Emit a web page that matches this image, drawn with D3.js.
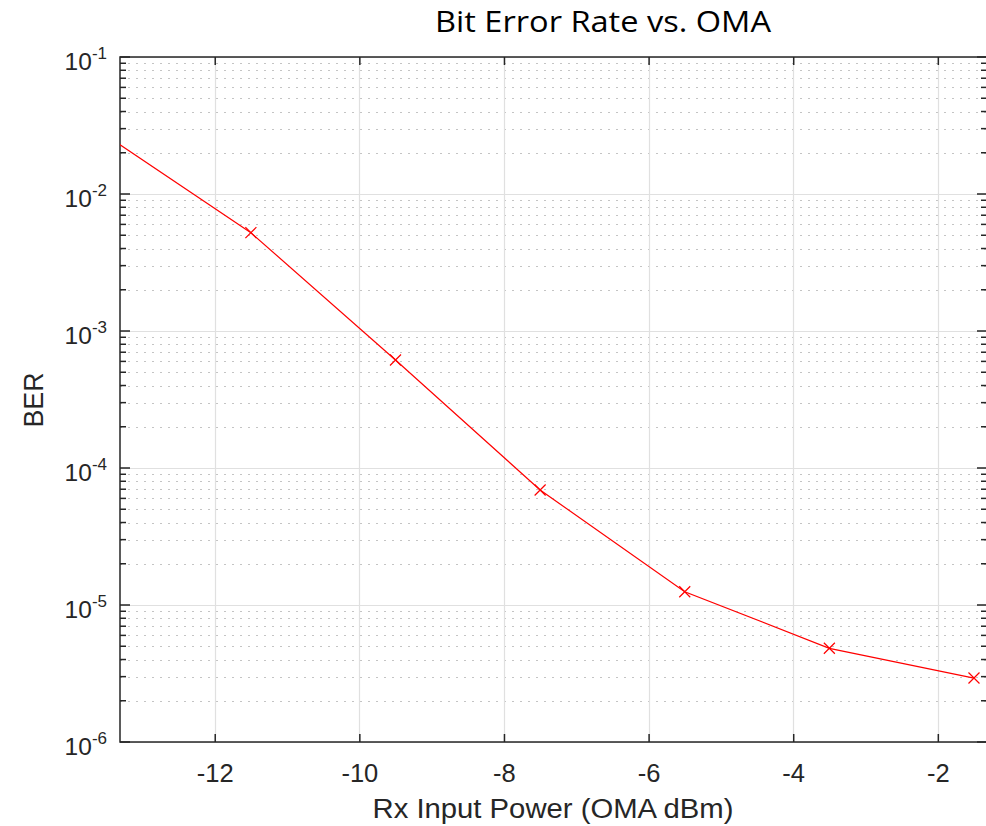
<!DOCTYPE html>
<html>
<head>
<meta charset="utf-8">
<script src="https://cdn.jsdelivr.net/npm/d3@7"></script>
<style>
  body { margin: 0; background: #fff; }
  text { font-family: "Liberation Sans", Arial, sans-serif; fill: #262626; }
</style>
</head>
<body>
<div id="chart"></div>
<script>
// data
var powerOMA = [-13.5, -11.5, -9.5, -7.5, -5.5, -3.5, -1.5];
var berValues = [2.67e-2, 5.22e-3, 6.14e-4, 6.91e-5, 1.25e-5, 4.83e-6, 2.93e-6];
var xTicks = [-12, -10, -8, -6, -4, -2];
var yExponents = [-1, -2, -3, -4, -5, -6];

// size and margins
var margin = {top: 57, right: -1, bottom: 84, left: 120},
  width = 986 - margin.left - margin.right,
  height = 826 - margin.top - margin.bottom;

var svg = d3.select("#chart")
  .append("svg")
    .attr("width", 986)
    .attr("height", 826);

var g = svg.append("g")
  .attr("transform", "translate(" + margin.left + "," + margin.top + ")");

// scales
var x = d3.scaleLinear()
  .domain([-13.31, -1.32])
  .range([0, width]);

var y = d3.scaleLog()
  .domain([1e-6, 1e-1])
  .range([height, 0]);

// minor y grid (dotted) + minor ticks
var minorVals = [];
for (var e = -6; e < -1; e++) {
  for (var m = 2; m <= 9; m++) minorVals.push(m * Math.pow(10, e));
}

g.append("g")
  .selectAll("line")
  .data(minorVals)
  .enter()
  .append("line")
    .attr("x1", 0)
    .attr("x2", width)
    .attr("y1", function(d) { return Math.round(y(d)) + 0.5; })
    .attr("y2", function(d) { return Math.round(y(d)) + 0.5; })
    .style("stroke", "#c4c4c4")
    .style("stroke-width", 1)
    .style("stroke-dasharray", "2,6");

// major grid
g.append("g")
  .selectAll("line")
  .data(yExponents)
  .enter()
  .append("line")
    .attr("x1", 0)
    .attr("x2", width)
    .attr("y1", function(d) { return Math.round(y(Math.pow(10, d))) + 0.5; })
    .attr("y2", function(d) { return Math.round(y(Math.pow(10, d))) + 0.5; })
    .style("stroke", "#e0e0e0")
    .style("stroke-width", 1.2);

g.append("g")
  .selectAll("line")
  .data(xTicks)
  .enter()
  .append("line")
    .attr("x1", function(d) { return Math.round(x(d)) + 0.5; })
    .attr("x2", function(d) { return Math.round(x(d)) + 0.5; })
    .attr("y1", 0)
    .attr("y2", height)
    .style("stroke", "#e0e0e0")
    .style("stroke-width", 1.2);

// ticks on all four sides
var axisColor = "#262626";

var xBottom = g.append("g")
  .attr("transform", "translate(0," + height + ")")
  .call(d3.axisBottom(x).tickValues(xTicks).tickSizeInner(-8).tickSizeOuter(0).tickPadding(22).tickFormat(d3.format("d")));
xBottom.select(".domain").remove();
xBottom.selectAll("line").style("stroke", axisColor).style("stroke-width", 1.5);
xBottom.selectAll("text")
  .style("font-size", "25.5px")
  .style("fill", axisColor)
  .text(function(d) { return d < 0 ? "-" + Math.abs(d) : d; });

var xTop = g.append("g")
  .call(d3.axisTop(x).tickValues(xTicks).tickSizeInner(-8).tickSizeOuter(0).tickFormat(""));
xTop.select(".domain").remove();
xTop.selectAll("line").style("stroke", axisColor).style("stroke-width", 1.5);

[0, width].forEach(function(px) {
  var dir = px === 0 ? 1 : -1;
  g.append("g").selectAll("line")
    .data(minorVals)
    .enter()
    .append("line")
      .attr("x1", px)
      .attr("x2", px + dir * 6)
      .attr("y1", function(d) { return y(d); })
      .attr("y2", function(d) { return y(d); })
      .style("stroke", axisColor)
      .style("stroke-width", 1.5);
  g.append("g").selectAll("line")
    .data(yExponents)
    .enter()
    .append("line")
      .attr("x1", px)
      .attr("x2", px + dir * 10)
      .attr("y1", function(d) { return y(Math.pow(10, d)); })
      .attr("y2", function(d) { return y(Math.pow(10, d)); })
      .style("stroke", axisColor)
      .style("stroke-width", 1.5);
});

// y tick labels 10^n
var yLab = g.append("g")
  .selectAll("text")
  .data(yExponents)
  .enter()
  .append("text")
    .attr("x", -13)
    .attr("y", function(d) { return y(Math.pow(10, d)) + 13; })
    .attr("text-anchor", "end")
    .style("font-size", "24.5px");
yLab.append("tspan").text("10");
yLab.append("tspan")
  .attr("dy", -11)
  .style("font-size", "17px")
  .text(function(d) { return "-" + Math.abs(d); });

// axes box
g.append("rect")
  .attr("x", 0)
  .attr("y", 0)
  .attr("width", width)
  .attr("height", height)
  .style("fill", "none")
  .style("stroke", axisColor)
  .style("stroke-width", 1.5);

// the series
g.append("clipPath")
  .attr("id", "clip")
  .append("rect")
    .attr("width", width)
    .attr("height", height);

var pts = powerOMA.map(function(d, i) { return [d, berValues[i]]; });

var line = d3.line()
  .x(function(d) { return x(d[0]); })
  .y(function(d) { return y(d[1]); });

var series = g.append("g").attr("clip-path", "url(#clip)");

series.append("path")
  .datum(pts)
  .attr("d", line)
  .style("fill", "none")
  .style("stroke", "#ff0000")
  .style("stroke-width", 1.2);

series.selectAll(".mark")
  .data(pts)
  .enter()
  .append("path")
    .attr("class", "mark")
    .attr("transform", function(d) { return "translate(" + x(d[0]) + "," + y(d[1]) + ")"; })
    .attr("d", "M-5.5,-5.5L5.5,5.5M-5.5,5.5L5.5,-5.5")
    .style("fill", "none")
    .style("stroke", "#ff0000")
    .style("stroke-width", 1.2);

// labels
svg.append("text")
  .attr("x", 603)
  .attr("y", 32)
  .attr("text-anchor", "middle")
  .attr("textLength", 336)
  .attr("lengthAdjust", "spacingAndGlyphs")
  .style("font-family", "'Open Sans', 'Noto Sans', sans-serif")
  .style("font-size", "30px")
  .style("fill", "#000")
  .text("Bit Error Rate vs. OMA");

svg.append("text")
  .attr("x", 553)
  .attr("y", 818)
  .attr("text-anchor", "middle")
  .attr("textLength", 361)
  .attr("lengthAdjust", "spacingAndGlyphs")
  .style("font-size", "27px")
  .text("Rx Input Power (OMA dBm)");

svg.append("text")
  .attr("transform", "translate(43,400)rotate(-90)")
  .attr("text-anchor", "middle")
  .attr("textLength", 55)
  .attr("lengthAdjust", "spacingAndGlyphs")
  .style("font-size", "27px")
  .text("BER");
</script>
</body>
</html>
